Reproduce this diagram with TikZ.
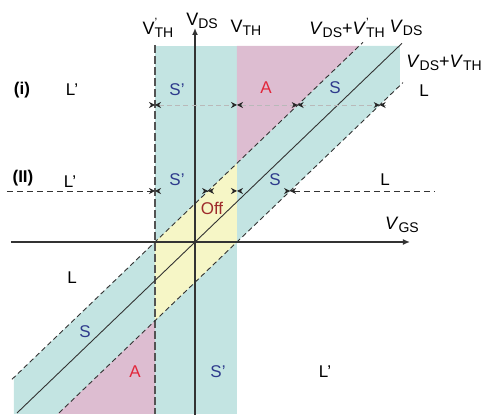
\documentclass[tikz,border=0pt]{standalone}
\usepackage{fontspec}
\setmainfont{Liberation Sans}
\usetikzlibrary{arrows.meta}
\usepackage{xcolor}
\definecolor{bandcyan}{HTML}{C3E4E2}
\definecolor{areapink}{HTML}{DDBDD1}
\definecolor{offyellow}{HTML}{F6F6C6}
\definecolor{sblue}{HTML}{2E3A8C}
\definecolor{ared}{HTML}{E2263B}
\definecolor{offred}{HTML}{9E2A2B}
\newcommand{\sbs}[1]{\raisebox{-0.3ex}{\fontsize{7}{8}\selectfont #1}}
\newcommand{\vsb}[1]{V\sbs{#1}}
\newcommand{\vsbi}[1]{\textit{V}\sbs{#1}}
\newcommand{\vthp}[1]{#1\rlap{\raisebox{0.9ex}{\fontsize{6}{7}\selectfont '}}\sbs{TH}}
\tikzset{
  bound/.style={gray!65!black,line width=0.9pt,dash pattern=on 4pt off 1.5pt},
  diag/.style={black!80,line width=0.45pt,dash pattern=on 2.5pt off 1.6pt},
  rowi/.style={gray!55,line width=0.4pt,dash pattern=on 2.5pt off 1.6pt},
  rowii/.style={black!80,line width=0.4pt,dash pattern=on 3pt off 2pt},
  axis/.style={black!80,line width=0.9pt,-{Latex[length=3.5pt,width=3pt]}},
  reg/.style={font=\fontsize{8.5}{10}\selectfont},
  vlab/.style={font=\fontsize{9}{10}\selectfont,inner sep=0pt},
}

\begin{document}
\begin{tikzpicture}[x=0.5pt,y=0.5pt,>={Stealth[length=3pt,width=3pt,black!85]}]
\useasboundingbox (-195,-175) rectangle (289,242);
% coloured regions
\fill[bandcyan] (-181,-172) -- (-181,-135.4) -- (164.2,196) -- (205,196) -- (205,156.5) -- (-137.2,-172) -- cycle;
\fill[bandcyan] (-40,-172) rectangle (42,196);
\fill[areapink] (42,196) -- (164.2,196) -- (42,78.7) -- cycle;
\fill[areapink] (-40,-78.7) -- (-40,-172) -- (-137.2,-172) -- cycle;
\fill[offyellow] (-40,0) -- (42,78.7) -- (42,0) -- (-40,-78.7) -- cycle;

% boundaries
\coordinate (bt) at (-40,197);
\coordinate (bb) at (-40,-172);
\coordinate (mlo) at (-178,-171);
\coordinate (mhi) at (207,198.7);
\coordinate (ulo) at (-183,-137.3);
\coordinate (uhi) at (168,199.7);
\coordinate (llo) at (-136,-170.9);
\coordinate (lhi) at (208,159.4);
\draw[bound] (bt) -- (bb);
\draw[black!80,line width=0.45pt] (mlo) -- (mhi);
\draw[diag] (ulo) -- (uhi);
\draw[diag] (llo) -- (lhi);

% axes
\coordinate (xa) at (-184,0);
\coordinate (xb) at (215,0);
\coordinate (ya) at (0,-173);
\coordinate (yb) at (0,214);
\draw[axis] (xa) -- (xb);
\draw[axis] (ya) -- (yb);

% row (i)
\foreach \n/\x in {o/-70,a/-40,b/42,c/102.7,d/184.7,e/191}
  \coordinate (i\n) at (\x,137);
\path[tips,->] (io) -- (ia);
\draw[rowi,<->] (ia) -- (ib);
\draw[rowi,<->] (ib) -- (ic);
\draw[rowi,<->] (ic) -- (id);
\draw[rowi,<-] (id) -- (ie);

% row (ii)
\foreach \n/\x in {o/-188,a/-40,b/13.1,c/42,d/95.1,e/239}
  \coordinate (ii\n) at (\x,51);
\draw[rowii,->] (iio) -- (iia);
\path[tips,<->] (iia) -- (iib);
\path[tips,<->] (iib) -- (iic);
\path[tips,<->] (iic) -- (iid);
\draw[rowii,<-] (iid) -- (iie);

% region letters
\node[reg,font=\fontsize{8.5}{10}\selectfont\bfseries] (r1) at (-173,152) {(i)};
\node[reg,font=\fontsize{8.5}{10}\selectfont\bfseries] (r2) at (-172,64) {(II)};
\foreach \x/\y/\t [count=\k] in {-123/152/L', -125/60/L', -123/-36/L, 229/151/L, 190/62/L, 130/-130/L'}
  \node[reg] (l\k) at (\x,\y) {\t};
\foreach \x/\y/\t [count=\k] in {-18/152/S', 140/154/S, -18/62/S', 80/62/S, -110/-90/S, 23/-130/S'}
  \node[reg,sblue] (s\k) at (\x,\y) {\t};
\node[reg,ared] (a1) at (71,154) {A};
\node[reg,ared] (a2) at (-60,-130) {A};
\node[reg,offred] (off) at (17,34) {Off};

% voltage labels
\node[vlab] (vthp) at (-37,214) {\vthp{V}};
\node[vlab] (vds) at (7,221) {\vsb{DS}};
\node[vlab] (vth) at (51,214) {\vsb{TH}};
\node[vlab] (vdsvthp) at (152,214) {\vsbi{DS}+\vthp{\textit{V}}};
\node[vlab] (vdsd) at (211,214) {\vsbi{DS}};
\node[vlab] (vdsvth) at (249,179) {\vsbi{DS}+\vsbi{TH}};
\node[vlab] (vgs) at (207,17) {\vsbi{GS}};
\end{tikzpicture}
\end{document}
